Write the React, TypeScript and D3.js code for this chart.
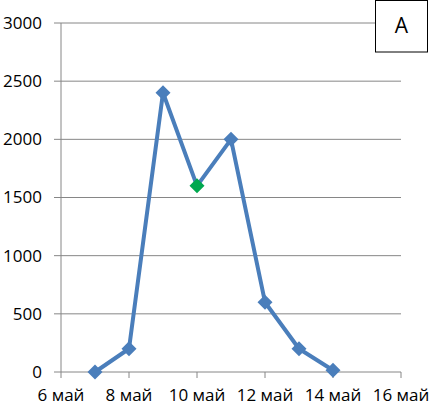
import React from "react";
import * as d3 from "d3";

const days = [7, 8, 9, 10, 11, 12, 13, 14];
const values = [0, 200, 2400, 1600, 2000, 600, 200, 15];
const highlightDay = 10;
const yTicks = [0, 500, 1000, 1500, 2000, 2500, 3000];
const xTicks = [6, 8, 10, 12, 14, 16];
const xTickLabel = (d: number) => `${d} май`;
const panelLabel = "A";

export default function App() {
  const W = 430, H = 406;
  const x = d3.scaleLinear().domain([6, 16]).range([61, 401]);
  const y = d3.scaleLinear().domain([0, 3000]).range([372, 23]);
  const line = d3.line<number>().x((_, i) => x(days[i])).y((v) => y(v));
  const font = "'Open Sans', 'Liberation Sans', sans-serif";
  const diamond = (cx: number, cy: number, r: number) =>
    `M${cx},${cy - r}L${cx + r},${cy}L${cx},${cy + r}L${cx - r},${cy}Z`;
  return (
    <svg width={W} height={H} style={{ position: "absolute", left: 0, top: 0 }}>
      <rect width={W} height={H} fill="#fff" />
      {yTicks.map((t) => (
        <g key={t}>
          {t > 0 && <line x1={x(6)} x2={x(16)} y1={y(t)} y2={y(t)} stroke="#868686" strokeWidth={1} />}
          <line x1={x(6) - 7} x2={x(6)} y1={y(t)} y2={y(t)} stroke="#868686" strokeWidth={1} />
          <text x={42} y={y(t)} dy="0.35em" textAnchor="end" fontFamily={font} fontSize={17} fill="#000">
            {t}
          </text>
        </g>
      ))}
      <line x1={x(6)} x2={x(6)} y1={y(3000)} y2={y(0)} stroke="#868686" strokeWidth={1} />
      <line x1={x(6)} x2={x(16)} y1={y(0)} y2={y(0)} stroke="#868686" strokeWidth={1} />
      {xTicks.map((t) => (
        <g key={t}>
          <line x1={x(t)} x2={x(t)} y1={y(0)} y2={y(0) + 6} stroke="#868686" strokeWidth={1} />
          <text x={x(t)} y={400.5} textAnchor="middle" fontFamily={font} fontSize={17} fill="#000">
            {xTickLabel(t)}
          </text>
        </g>
      ))}
      <path d={line(values) || ""} fill="none" stroke="#4A7EBB" strokeWidth={4} strokeLinejoin="round" />
      {values.map((v, i) => (
        <path
          key={i}
          d={diamond(x(days[i]), y(v), 7.5)}
          fill={days[i] === highlightDay ? "#00A84F" : "#4A7EBB"}
        />
      ))}
      <rect x={375.5} y={0.5} width={52} height={51.5} fill="#fff" stroke="#000" strokeWidth={1} />
      <text x={401.5} y={26} dy="0.35em" textAnchor="middle" fontFamily={font} fontSize={21} fill="#000">
        {panelLabel}
      </text>
    </svg>
  );
}
